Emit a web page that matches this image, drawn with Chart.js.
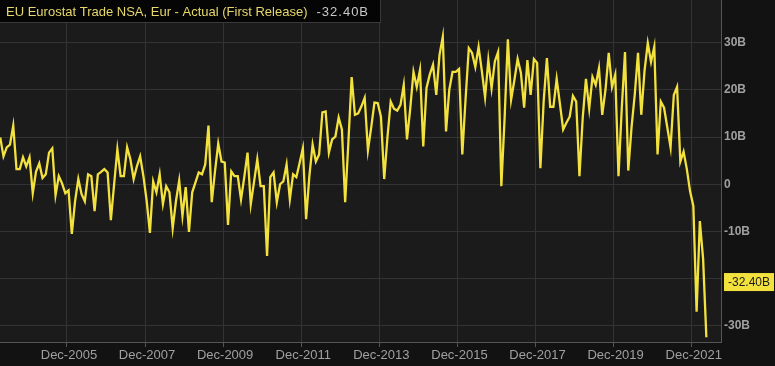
<!DOCTYPE html>
<html>
<head>
<meta charset="utf-8">
<script src="https://cdn.jsdelivr.net/npm/chart.js@4.4.0/dist/chart.umd.min.js"></script>
<style>
  html, body { margin: 0; padding: 0; background: #121212; }
  canvas { display: block; }
</style>
</head>
<body>
<canvas id="myChart" width="775" height="366"></canvas>
<script>
// trade balance, first release, EUR bn, one value per month from Mar-2004
const startYear = 2004;
const startMonth = 3;
const balance = [
  9.9, 5.9, 7.8, 8.4, 12.4, 3.2, 3.2, 5.7, 3.8, 5.7, // 2004 (Mar-Dec)
  -1.9, 2.7, 4.4, 1.3, 2.1, 6.7, 7.6, -2.3, 1.7, 0.2, -1.9, -1.3, // 2005
  -10.5, -3.6, 1.1, -2.1, -3.6, 2.1, 1.7, -5.7, 2.1, 2.6, 3.2, 2.5, // 2006
  -7.6, 0, 7.4, 1.7, 1.7, 7.8, 5.3, 1.1, 3.8, 5.9, 1.7, -3.5, // 2007
  -10.3, 0.6, -1.7, 2.1, -4.2, -0.4, -1.7, -9.3, -3.6, 0.8, -6.7, -0.6, // 2008
  -10.1, -1.7, 0.4, 2.5, 2.1, 4.2, 12.4, -3.8, 2.7, 8.6, 4.8, 4.6, // 2009
  -8.6, 2.7, 1.7, 1.7, -3.2, 1.5, 6.7, -4.2, 0.5, 5.3, -0.4, -0.4, // 2010
  -15.2, 1.5, 2.5, -3.8, 0, 0.6, 4.2, -3.2, 2.1, 1.5, 4.5, 7.6, // 2011
  -7.4, 1.7, 8.4, 4.8, 6.3, 15.2, 15.4, 6.7, 9.5, 10.1, 14.1, 11.6, // 2012
  -3.8, 9, 22.7, 14.7, 15, 16.5, 18.3, 7.2, 12, 17.3, 17.2, 14.3, // 2013
  1.1, 10, 17.5, 16, 15.6, 16.8, 21, 9.5, 16, 23.8, 20.6, 24.2, // 2014
  8, 20.4, 23.2, 25.3, 18.9, 27.4, 31.2, 11.2, 20, 23.8, 23.8, 24.4, // 2015
  6.3, 18, 28.8, 27.8, 24.8, 29.1, 24, 18.4, 26.3, 20.3, 26, 28, // 2016
  -0.4, 14, 30.7, 17.9, 22, 26.5, 23.6, 16.2, 26.3, 18.9, 26.5, 25.7, // 2017
  3.4, 17.5, 26.7, 16.4, 16.4, 22.3, 17, 11.6, 13, 14.3, 18.7, 17.5, // 2018
  1.7, 14, 22.3, 16, 22.7, 21, 24.6, 14.7, 20, 27.8, 20.6, 23.2, // 2019
  1.7, 16, 28, 2.9, 12, 19, 27.8, 14.7, 24, 29.9, 25.9, 29.1, // 2020
  6.3, 17.5, 16.2, 12, 7.8, 18.9, 20.6, 4.8, 6.9, 3.2, -1.5, -4.6, // 2021
  -27, -7.8, -15.8, -32.4 // 2022 (Jan-Apr)
];
const xTickLabels = ["Dec-2005", "Dec-2007", "Dec-2009", "Dec-2011", "Dec-2013",
  "Dec-2015", "Dec-2017", "Dec-2019", "Dec-2021"];
const yTickValues = [-30, -20, -10, 0, 10, 20, 30];
const seriesName = "EU Eurostat Trade NSA, Eur - Actual (First Release)";

const lineColor = "#f3e23e";
const textColor = "#a0a0a0";

// months counted from Jan-2004 (start of month), each point sits mid-month
const points = balance.map((v, i) => ({
  x: (startYear - 2004) * 12 + (startMonth - 1) + i + 0.5,
  y: v,
}));
// a "Dec-YYYY" tick sits at the start of that December
const tickPos = (label) => (parseInt(label.slice(4)) - 2004) * 12 + 11;
const lastValue = balance[balance.length - 1];

const backdrop = {
  id: "backdrop",
  beforeDraw(chart) {
    const { ctx, chartArea: a } = chart;
    ctx.save();
    ctx.fillStyle = "#121212";
    ctx.fillRect(0, 0, chart.width, chart.height);
    ctx.fillStyle = "#1b1b1c";
    ctx.fillRect(a.left, a.top, a.right - a.left, a.bottom - a.top);
    ctx.restore();
  },
};

const labels = {
  id: "labels",
  afterDraw(chart) {
    const { ctx } = chart;
    const y = chart.scales.y;
    ctx.save();

    // series title box, top left
    ctx.font = "13px Arial";
    const nameW = ctx.measureText(seriesName).width;
    const valText = lastValue.toFixed(2) + "B";
    ctx.letterSpacing = "1px";
    const valW = ctx.measureText(valText).width;
    ctx.letterSpacing = "0px";
    const valX = 6 + nameW + 9;
    const boxW = valX + valW + 12;
    ctx.fillStyle = "#050505";
    ctx.fillRect(0, 0, boxW, 23);
    ctx.strokeStyle = "#3a3a3a";
    ctx.lineWidth = 1;
    ctx.strokeRect(-0.5, -0.5, boxW, 23);
    ctx.textBaseline = "middle";
    ctx.fillStyle = "#e6d86a";
    ctx.fillText(seriesName, 6, 12);
    ctx.fillStyle = "#c8c8c8";
    ctx.letterSpacing = "1px";
    ctx.fillText(valText, valX, 12);
    ctx.letterSpacing = "0px";

    // last value tag on the right axis
    const ty = y.getPixelForValue(-20.7);
    ctx.fillStyle = lineColor;
    ctx.fillRect(724, ty - 9, 50, 18);
    ctx.fillStyle = "#1a1a1a";
    ctx.font = "12px Arial";
    ctx.textAlign = "center";
    ctx.fillText(valText, 749, ty + 1);
    ctx.restore();
  },
};

new Chart(document.getElementById("myChart"), {
  type: "line",
  data: {
    datasets: [
      {
        label: seriesName,
        data: points,
        borderColor: lineColor,
        borderWidth: 2.3,
        pointRadius: 0,
        tension: 0,
        fill: false,
      },
    ],
  },
  options: {
    responsive: false,
    animation: false,
    devicePixelRatio: 1,
    layout: { padding: 0 },
    plugins: { legend: { display: false }, tooltip: { enabled: false } },
    scales: {
      x: {
        type: "linear",
        min: 2.43,
        max: 224,
        afterBuildTicks: (s) => {
          s.ticks = xTickLabels.map((l) => ({ value: tickPos(l) }));
        },
        afterFit: (s) => {
          s.height = 24;
          s.paddingLeft = 0;
          s.paddingRight = 0;
        },
        ticks: {
          color: textColor,
          font: { family: "Arial", size: 13 },
          padding: 1,
          labelOffset: 2,
          maxRotation: 0,
          callback: (v) => xTickLabels[xTickLabels.findIndex((l) => tickPos(l) === v)],
        },
        grid: { color: "#333335", tickColor: "#555", tickLength: 5 },
        border: { color: "#555" },
      },
      y: {
        position: "right",
        min: -33.39,
        max: 39,
        afterBuildTicks: (s) => {
          s.ticks = yTickValues.map((v) => ({ value: v }));
        },
        afterFit: (s) => {
          s.width = 54;
          s.paddingTop = 0;
          s.paddingBottom = 0;
        },
        ticks: {
          color: textColor,
          font: { family: "Arial", size: 12, weight: "bold" },
          padding: 3,
          callback: (v) => (v === 0 ? "0" : v + "B"),
        },
        grid: { color: "#333335", drawTicks: false },
        border: { color: "#555" },
      },
    },
  },
  plugins: [backdrop, labels],
});
</script>
</body>
</html>
